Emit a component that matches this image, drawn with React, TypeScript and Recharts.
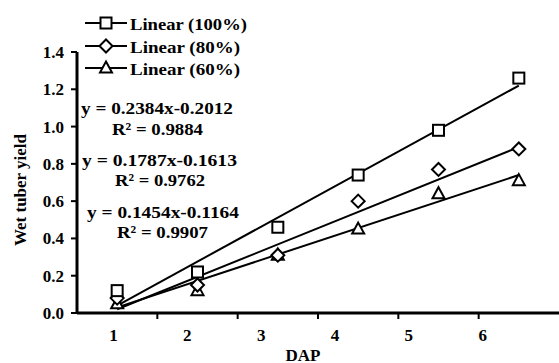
import React from 'react';
import { ComposedChart, Line, XAxis, YAxis, Legend } from 'recharts';

const dap = [1, 2, 3, 4, 5, 6];
const yield100 = [0.12, 0.22, 0.46, 0.74, 0.98, 1.26];
const yield80 = [0.08, 0.15, 0.31, 0.6, 0.77, 0.88];
const yield60 = [0.05, 0.12, 0.31, 0.45, 0.64, 0.71];
const trend100 = [0.04, null, null, null, null, 1.22];
const trend80 = [0.02, null, null, null, null, 0.89];
const trend60 = [0.03, null, null, null, null, 0.74];
const yTicks = [0, 0.2, 0.4, 0.6, 0.8, 1.0, 1.2, 1.4];
const xLabelTicks = [1, 2, 3, 4, 5, 6];
const bandEdges = [1.5, 2.5, 3.5, 4.5, 5.5];
const seriesNames = ['Linear (100%)', 'Linear (80%)', 'Linear (60%)'];
const equations = ['y = 0.2384x-0.2012', 'y = 0.1787x-0.1613', 'y = 0.1454x-0.1164'];
const rSquared = ['R² = 0.9884', 'R² = 0.9762', 'R² = 0.9907'];

const data = dap.map((x, i) => ({
  x,
  s100: yield100[i],
  s80: yield80[i],
  s60: yield60[i],
  t100: trend100[i],
  t80: trend80[i],
  t60: trend60[i],
}));

const FONT = '"Liberation Serif", "Times New Roman", serif';

function Marker({ kind, cx, cy }: { kind: number; cx: number; cy: number }) {
  if (cx == null || cy == null) return null;
  if (kind === 0)
    return <rect x={cx - 5.5} y={cy - 5.5} width={11} height={11} fill="#fff" stroke="#000" strokeWidth={2} />;
  if (kind === 1)
    return (
      <polygon
        points={`${cx},${cy - 6.5} ${cx + 6.5},${cy} ${cx},${cy + 6.5} ${cx - 6.5},${cy}`}
        fill="#fff"
        stroke="#000"
        strokeWidth={2}
      />
    );
  return (
    <polygon
      points={`${cx},${cy - 6.5} ${cx + 6},${cy + 4.5} ${cx - 6},${cy + 4.5}`}
      fill="#fff"
      stroke="#000"
      strokeWidth={2}
    />
  );
}

const makeDot = (kind: number) => (props: any) => (
  <Marker key={`m${kind}-${props.index}`} kind={kind} cx={props.cx} cy={props.cy} />
);

const EmptyTick = () => <g />;

const legendWidths = [117, 110, 110];

function LegendContent() {
  const rows = [23, 46, 68];
  return (
    <svg width={200} height={80} style={{ display: 'block', overflow: 'visible' }}>
      {seriesNames.map((name, i) => (
        <g key={name}>
          <line x1={5} x2={47} y1={rows[i] - 10} y2={rows[i] - 10} stroke="#000" strokeWidth={2} />
          <Marker kind={i} cx={26} cy={rows[i] - 10} />
          <text
            x={50}
            y={rows[i] - 9}
            dominantBaseline="central"
            fontFamily={FONT}
            fontWeight="bold"
            fontSize={17.5}
            textLength={legendWidths[i]}
            lengthAdjust="spacingAndGlyphs"
            fill="#000"
          >
            {name}
          </text>
        </g>
      ))}
    </svg>
  );
}

const tickStyle = { fontFamily: FONT, fontWeight: 'bold' as const, fontSize: 17, fill: '#000' };

export default function App() {
  const eqPos = [
    { ex: 81, ey: 107.5, ew: 152, rx: 112, ry: 129, rw: 91 },
    { ex: 82, ey: 159.5, ew: 155, rx: 115, ry: 180, rw: 90 },
    { ex: 87, ey: 212, ew: 152, rx: 117, ry: 232, rw: 91 },
  ];
  return (
    <div style={{ position: 'absolute', left: 0, top: 0, width: 559, height: 363, background: '#fff' }}>
      <ComposedChart
        width={559}
        height={363}
        data={data}
        margin={{ top: 52, right: 0, bottom: 0, left: 0 }}
      >
        <XAxis
          xAxisId="d"
          dataKey="x"
          type="number"
          domain={[0.5, 6.5]}
          allowDataOverflow
          ticks={bandEdges}
          interval={0}
          tick={EmptyTick}
          tickSize={6}
          height={6}
          axisLine={{ stroke: '#000', strokeWidth: 3 }}
          tickLine={{ stroke: '#000', strokeWidth: 2 }}
        />
        <XAxis
          xAxisId="lbl"
          dataKey="x"
          type="number"
          domain={[0.506, 7.034]}
          allowDataOverflow
          ticks={xLabelTicks}
          interval={0}
          axisLine={false}
          tickLine={false}
          tickMargin={4}
          height={44}
          tick={tickStyle}
          label={(props: any) => (
            <text
              key="xlabel"
              x={303}
              y={355}
              textAnchor="middle"
              dominantBaseline="central"
              fontFamily={FONT}
              fontWeight="bold"
              fontSize={17}
              fill="#000"
            >
              DAP
            </text>
          )}
        />
        <YAxis
          type="number"
          domain={[0, 1.4]}
          ticks={yTicks}
          allowDataOverflow
          width={77}
          tickSize={6}
          tickMargin={7}
          tickFormatter={(v: number) => v.toFixed(1)}
          tick={tickStyle}
          axisLine={{ stroke: '#000', strokeWidth: 3 }}
          tickLine={{ stroke: '#000', strokeWidth: 2 }}
          label={(props: any) => (
            <text
              key="ylabel"
              x={20}
              y={190}
              transform="rotate(-90 20 190)"
              textAnchor="middle"
              dominantBaseline="central"
              fontFamily={FONT}
              fontWeight="bold"
              fontSize={17}
              fill="#000"
            >
              Wet tuber yield
            </text>
          )}
        />
        <Legend
          layout="vertical"
          align="center"
          verticalAlign="middle"
          content={() => <LegendContent />}
          wrapperStyle={{ left: 80, top: 10, width: 200, height: 80 }}
        />
        <Line xAxisId="d" dataKey="t100" stroke="#000" strokeWidth={2} dot={false} connectNulls isAnimationActive={false} legendType="none" />
        <Line xAxisId="d" dataKey="t80" stroke="#000" strokeWidth={2} dot={false} connectNulls isAnimationActive={false} legendType="none" />
        <Line xAxisId="d" dataKey="t60" stroke="#000" strokeWidth={2} dot={false} connectNulls isAnimationActive={false} legendType="none" />
        <Line xAxisId="d" dataKey="s60" stroke="none" dot={makeDot(2)} activeDot={false} isAnimationActive={false} name={seriesNames[2]} />
        <Line xAxisId="d" dataKey="s80" stroke="none" dot={makeDot(1)} activeDot={false} isAnimationActive={false} name={seriesNames[1]} />
        <Line xAxisId="d" dataKey="s100" stroke="none" dot={makeDot(0)} activeDot={false} isAnimationActive={false} name={seriesNames[0]} />
      </ComposedChart>
      <svg
        width={559}
        height={363}
        style={{ position: 'absolute', left: 0, top: 0, pointerEvents: 'none' }}
      >
        {equations.map((eq, i) => (
          <g key={eq}>
            <text
              x={eqPos[i].ex}
              y={eqPos[i].ey}
              dominantBaseline="central"
              fontFamily={FONT}
              fontWeight="bold"
              fontSize={17.5}
              textLength={eqPos[i].ew}
              lengthAdjust="spacingAndGlyphs"
              fill="#000"
            >
              {eq}
            </text>
            <text
              x={eqPos[i].rx}
              y={eqPos[i].ry}
              dominantBaseline="central"
              fontFamily={FONT}
              fontWeight="bold"
              fontSize={17.5}
              textLength={eqPos[i].rw}
              lengthAdjust="spacingAndGlyphs"
              fill="#000"
            >
              {rSquared[i]}
            </text>
          </g>
        ))}
      </svg>
    </div>
  );
}
